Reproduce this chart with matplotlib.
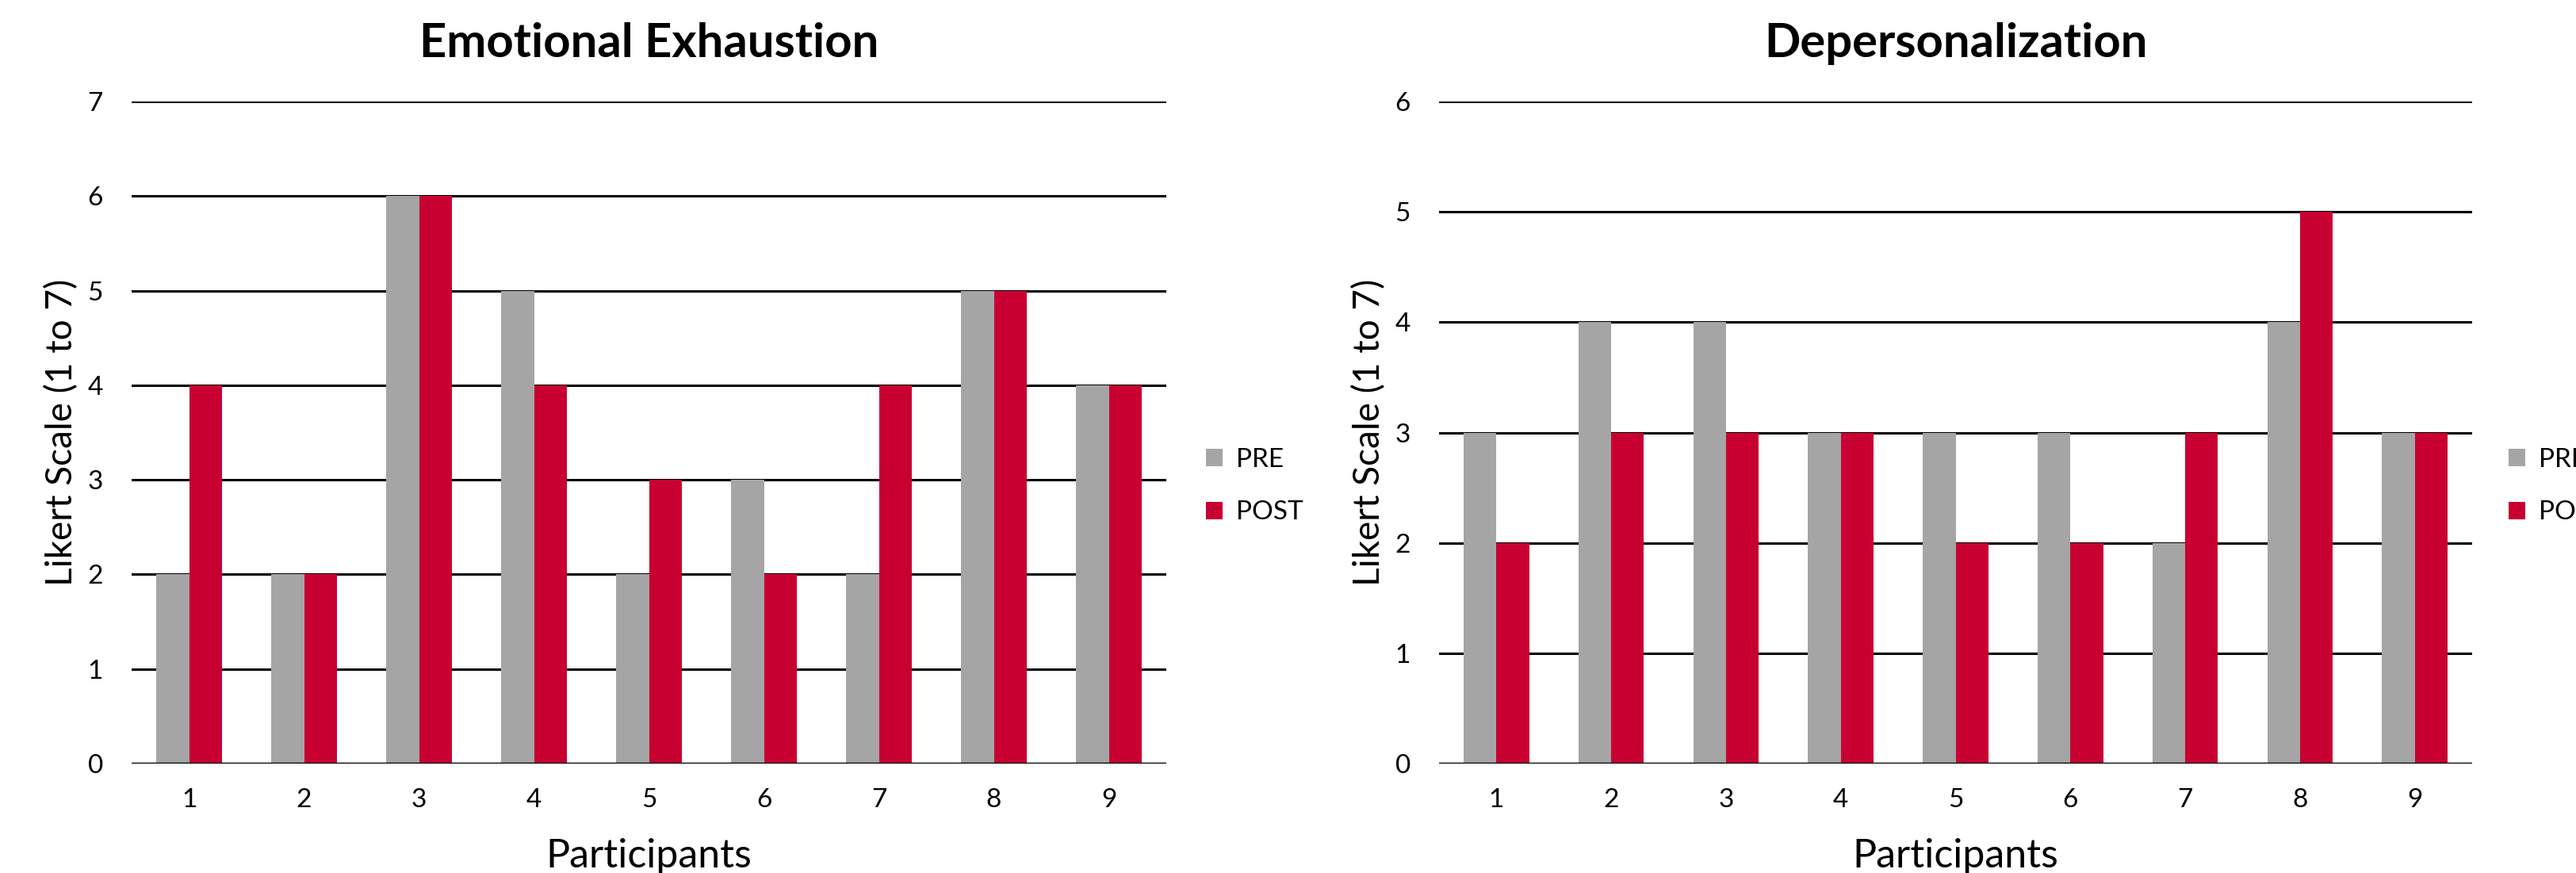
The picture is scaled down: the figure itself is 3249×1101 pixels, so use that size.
import matplotlib.pyplot as plt
import numpy as np

plt.rcParams['font.family'] = ['Lato', 'DejaVu Sans']

participants = ['1', '2', '3', '4', '5', '6', '7', '8', '9']
ee_pre = [2, 2, 6, 5, 2, 3, 2, 5, 4]
ee_post = [4, 2, 6, 4, 3, 2, 4, 5, 4]
dp_pre = [3, 4, 4, 3, 3, 3, 2, 4, 3]
dp_post = [2, 3, 3, 3, 2, 2, 3, 5, 3]

gray = '#A5A5A5'
red = '#C80032'

W, H = 3249, 1101
fig = plt.figure(figsize=(W / 100, H / 100), dpi=100)


def panel(x0, x1, ymax, pre, post, title, legx):
    ax = fig.add_axes([x0 / W, (H - 963) / H, (x1 - x0) / W, (963 - 128) / H])
    x = np.arange(len(participants))
    w = 0.285
    ax.bar(x - w / 2, pre, w, color=gray, label='PRE', zorder=3)
    ax.bar(x + w / 2, post, w, color=red, label='POST', zorder=3)
    ax.axhline(0, color='black', lw=2.5, zorder=4)
    ax.set_xlim(-0.5, len(participants) - 0.5)
    ax.set_ylim(0, ymax)
    ax.set_yticks(range(ymax + 1))
    ax.set_xticks(x)
    ax.set_xticklabels(participants)
    ax.grid(axis='y', color='black', lw=2.2, zorder=1)
    for s in ax.spines.values():
        s.set_visible(False)
    ax.tick_params(length=0, labelsize=24, pad=22)
    ax.tick_params(axis='y', pad=26)
    ax.set_xlabel('Participants', fontsize=36, labelpad=24)
    ax.set_ylabel('Likert Scale (1 to 7)', fontsize=33, labelpad=8)
    ax.set_title(title, fontsize=43, fontweight='bold', pad=40)
    ax.legend(loc='center left', bbox_to_anchor=(legx / W, (H - 613) / H),
              bbox_transform=fig.transFigure, frameon=False, fontsize=24,
              handlelength=0.65, handleheight=0.65, handletextpad=0.5,
              labelspacing=1.1, borderpad=0)
    return ax


panel(166, 1471, 7, ee_pre, ee_post, 'Emotional Exhaustion', 1504)
panel(1815, 3118, 6, dp_pre, dp_post, 'Depersonalization', 3147)

fig.savefig('out.png', dpi=100)
